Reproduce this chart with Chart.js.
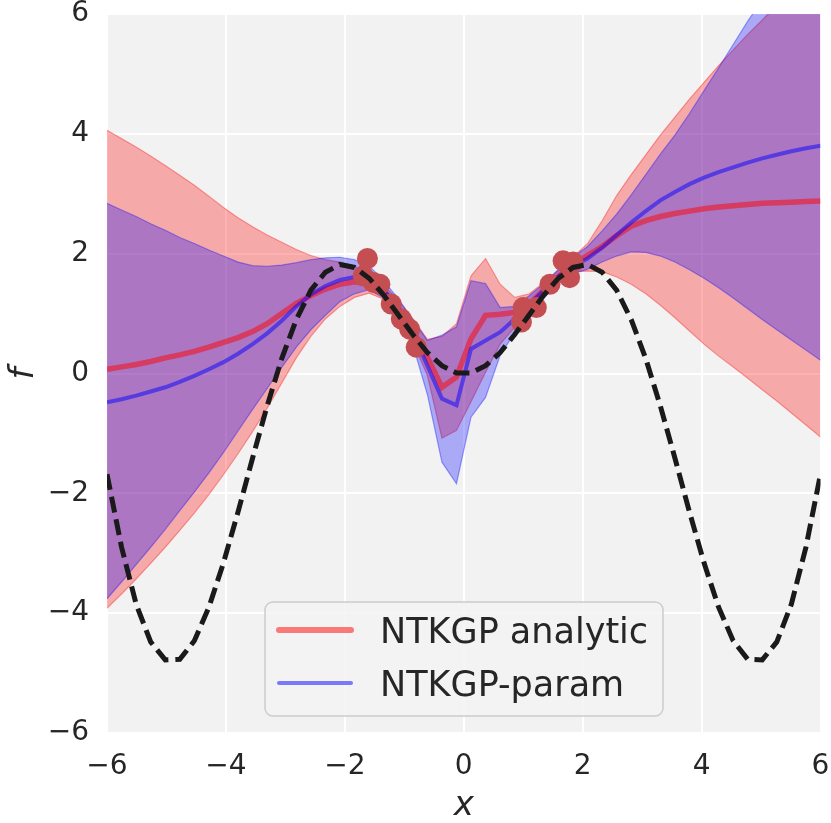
<!DOCTYPE html>
<html>
<head>
<meta charset="utf-8">
<script src="https://cdn.jsdelivr.net/npm/chart.js@4.4.1/dist/chart.umd.min.js"></script>
<style>
  html, body { margin: 0; background: #fff; }
  #wrap { width: 831px; height: 823px; }
</style>
</head>
<body>
<div id="wrap"><canvas id="chart"></canvas></div>
<script>
// prediction grid (x) shared by the curves and bands
const xs = [-6.000,-5.755,-5.510,-5.265,-5.020,-4.776,-4.531,-4.286,-4.041,-3.796,-3.551,-3.306,-3.061,-2.816,-2.571,-2.327,-2.082,-1.837,-1.592,-1.347,-1.102,-0.857,-0.612,-0.367,-0.122,
            0.122,0.367,0.612,0.857,1.102,1.347,1.592,1.837,2.082,2.327,2.571,2.816,3.061,3.306,3.551,3.796,4.041,4.286,4.531,4.776,5.020,5.265,5.510,5.755,6.000];

// true function (black dashed)
const trueF = [-1.68,-2.90,-3.85,-4.48,-4.78,-4.77,-4.46,-3.90,-3.16,-2.31,-1.41,-0.54,0.25,0.90,1.39,1.69,1.82,1.77,1.59,1.31,0.98,0.65,0.35,0.13,0.01,
               0.01,0.13,0.35,0.65,0.98,1.31,1.59,1.77,1.82,1.69,1.39,0.90,0.25,-0.54,-1.41,-2.31,-3.16,-3.90,-4.46,-4.77,-4.78,-4.48,-3.85,-2.90,-1.68];

// NTKGP analytic
const redMean = [0.07,0.11,0.15,0.20,0.26,0.31,0.37,0.44,0.52,0.60,0.70,0.83,1.00,1.17,1.30,1.41,1.49,1.53,1.50,1.36,1.10,0.72,0.27,-0.23,-0.06,
                 0.58,0.97,0.99,1.02,1.15,1.40,1.62,1.82,1.97,2.12,2.30,2.46,2.55,2.62,2.67,2.71,2.75,2.78,2.80,2.82,2.84,2.85,2.86,2.87,2.88];
const redHi = [4.06,3.92,3.78,3.63,3.47,3.31,3.14,2.96,2.77,2.60,2.45,2.31,2.19,2.07,1.97,1.90,1.86,1.79,1.66,1.48,1.22,0.92,0.57,0.62,0.83,
               1.63,1.92,1.49,1.27,1.33,1.52,1.72,1.94,2.17,2.55,2.97,3.32,3.65,3.98,4.28,4.58,4.86,5.14,5.40,5.66,5.90,6.15,6.38,6.60,6.82];
const redLo = [-3.92,-3.68,-3.43,-3.17,-2.90,-2.62,-2.33,-2.02,-1.69,-1.34,-0.97,-0.58,-0.16,0.26,0.62,0.91,1.12,1.27,1.34,1.24,0.98,0.52,-0.03,-1.08,-0.95,
               -0.47,0.02,0.49,0.77,0.97,1.28,1.52,1.70,1.71,1.70,1.61,1.49,1.33,1.14,0.93,0.71,0.49,0.29,0.11,-0.08,-0.27,-0.46,-0.66,-0.86,-1.06];

// NTKGP-param
const blueMean = [-0.48,-0.43,-0.37,-0.30,-0.23,-0.14,-0.04,0.07,0.19,0.33,0.49,0.67,0.88,1.12,1.32,1.46,1.56,1.61,1.57,1.40,1.10,0.68,0.13,-0.42,-0.53,
                  0.41,0.55,0.69,0.91,1.16,1.38,1.62,1.80,1.92,2.10,2.31,2.52,2.71,2.89,3.03,3.16,3.27,3.36,3.44,3.52,3.59,3.65,3.71,3.76,3.80];
const blueHi = [2.84,2.73,2.62,2.50,2.39,2.27,2.17,2.06,1.96,1.86,1.80,1.79,1.81,1.85,1.90,1.93,1.94,1.90,1.80,1.55,1.25,0.90,0.55,0.64,0.78,
                1.55,1.50,1.10,1.12,1.30,1.50,1.74,1.94,2.12,2.38,2.66,2.98,3.32,3.66,3.98,4.34,4.72,5.10,5.49,5.88,6.24,6.58,6.90,7.20,7.40];
const blueLo = [-3.76,-3.48,-3.19,-2.90,-2.60,-2.29,-1.98,-1.66,-1.32,-0.96,-0.60,-0.25,0.10,0.44,0.73,0.97,1.20,1.33,1.40,1.26,0.96,0.48,-0.35,-1.48,-1.84,
                -0.73,-0.40,0.30,0.68,1.02,1.26,1.50,1.66,1.74,1.86,1.96,2.03,2.02,1.96,1.86,1.73,1.59,1.43,1.26,1.08,0.90,0.73,0.56,0.39,0.22];

// training points
const trainX = [-1.62,-1.69,-1.52,-1.41,-1.22,-1.05,-0.91,-0.80, 0.97,1.00,1.22,1.45,1.67,1.78,1.84];
const trainY = [1.92,1.63,1.52,1.49,1.16,0.91,0.74,0.44, 0.86,1.10,1.10,1.49,1.88,1.60,1.86];

const axisTicks = [-6,-4,-2,0,2,4,6];

const FONT = '"DejaVu Sans", "Noto Sans", sans-serif';
const pts = ys => ys.map((y, i) => ({ x: xs[i], y }));
const minus = v => v < 0 ? '\u2212' + Math.abs(v) : String(v);

const areaBg = {
  id: 'areaBg',
  beforeDraw(chart) {
    const { ctx, chartArea: a } = chart;
    ctx.save();
    ctx.fillStyle = '#f2f2f2';
    ctx.fillRect(a.left, a.top, a.width, a.height);
    ctx.restore();
  }
};

const boxLegend = {
  id: 'boxLegend',
  afterDraw(chart) {
    const ctx = chart.ctx;
    const items = chart.data.datasets.filter(d => d.inLegend);
    ctx.save();
    ctx.beginPath();
    ctx.roundRect(265, 602, 398, 114, 8);
    ctx.fillStyle = 'rgba(242,242,242,0.8)';
    ctx.fill();
    ctx.strokeStyle = '#cccccc';
    ctx.lineWidth = 1.5;
    ctx.stroke();
    items.forEach((d, i) => {
      const y = 630 + i * 53;
      ctx.beginPath();
      ctx.moveTo(279, y);
      ctx.lineTo(351, y);
      ctx.strokeStyle = d.borderColor;
      ctx.lineWidth = d.legendWidth;
      ctx.lineCap = 'round';
      ctx.stroke();
      ctx.fillStyle = '#262626';
      ctx.font = '35px ' + FONT;
      ctx.textBaseline = 'alphabetic';
      ctx.fillText(d.label, 380, y + 13);
    });
    ctx.restore();
  }
};

const band = (data, color, order, fill) => ({
  type: 'line', data: pts(data), order, fill,
  borderColor: color.replace('A', '0.35'), borderWidth: 1.2,
  backgroundColor: color.replace('A', '0.3'),
  pointRadius: 0, clip: 0
});

new Chart(document.getElementById('chart'), {
  type: 'line',
  data: {
    datasets: [
      band(redLo, 'rgba(255,0,0,A)', 10, false),
      band(redHi, 'rgba(255,0,0,A)', 9, '-1'),
      band(blueLo, 'rgba(0,0,255,A)', 8, false),
      band(blueHi, 'rgba(0,0,255,A)', 7, '-1'),
      { label: 'NTKGP analytic', inLegend: true, legendWidth: 6, data: pts(redMean), order: 6,
        borderColor: 'rgba(255,0,0,0.5)', borderWidth: 5.5, pointRadius: 0, fill: false, clip: 0 },
      { label: 'NTKGP-param', inLegend: true, legendWidth: 4, data: pts(blueMean), order: 5,
        borderColor: 'rgba(0,0,255,0.5)', borderWidth: 4, pointRadius: 0, fill: false, clip: 0 },
      { type: 'scatter', data: trainX.map((x, i) => ({ x, y: trainY[i] })), order: 3,
        backgroundColor: '#c44e52', borderWidth: 0, pointRadius: 10.5 },
      { data: pts(trueF), order: 2, borderColor: '#1a1a1a', borderWidth: 5, borderDash: [16, 7],
        pointRadius: 0, fill: false, clip: 0 }
    ]
  },
  options: {
    responsive: true,
    maintainAspectRatio: false,
    animation: false,
    layout: { padding: 0 },
    plugins: { legend: { display: false }, tooltip: { enabled: false } },
    scales: {
      x: {
        type: 'linear', min: -6, max: 6,
        afterFit: s => { s.height = 90; s.paddingLeft = 0; s.paddingRight = 10; },
        afterBuildTicks: s => { s.ticks = axisTicks.map(v => ({ value: v })); },
        grid: { color: '#ffffff', lineWidth: 2, drawTicks: false },
        border: { display: false },
        ticks: { padding: 17, color: '#262626', font: { family: FONT, size: 28 }, callback: minus },
        title: { display: true, text: 'x', color: '#262626', padding: { top: 0, bottom: 0 },
                 font: { family: FONT, size: 34, style: 'italic', lineHeight: 1.0 } }
      },
      y: {
        type: 'linear', min: -6, max: 6,
        afterFit: s => { s.width = 107; s.paddingTop = 14; s.paddingBottom = 0; },
        afterBuildTicks: s => { s.ticks = axisTicks.map(v => ({ value: v })); },
        grid: { color: '#ffffff', lineWidth: 2, drawTicks: false },
        border: { display: false },
        ticks: { padding: 18, color: '#262626', font: { family: FONT, size: 28 }, callback: minus },
        title: { display: true, text: 'f', color: '#262626', padding: { top: 4, bottom: 0 },
                 font: { family: FONT, size: 34, style: 'italic' } }
      }
    }
  },
  plugins: [areaBg, boxLegend]
});
</script>
</body>
</html>
